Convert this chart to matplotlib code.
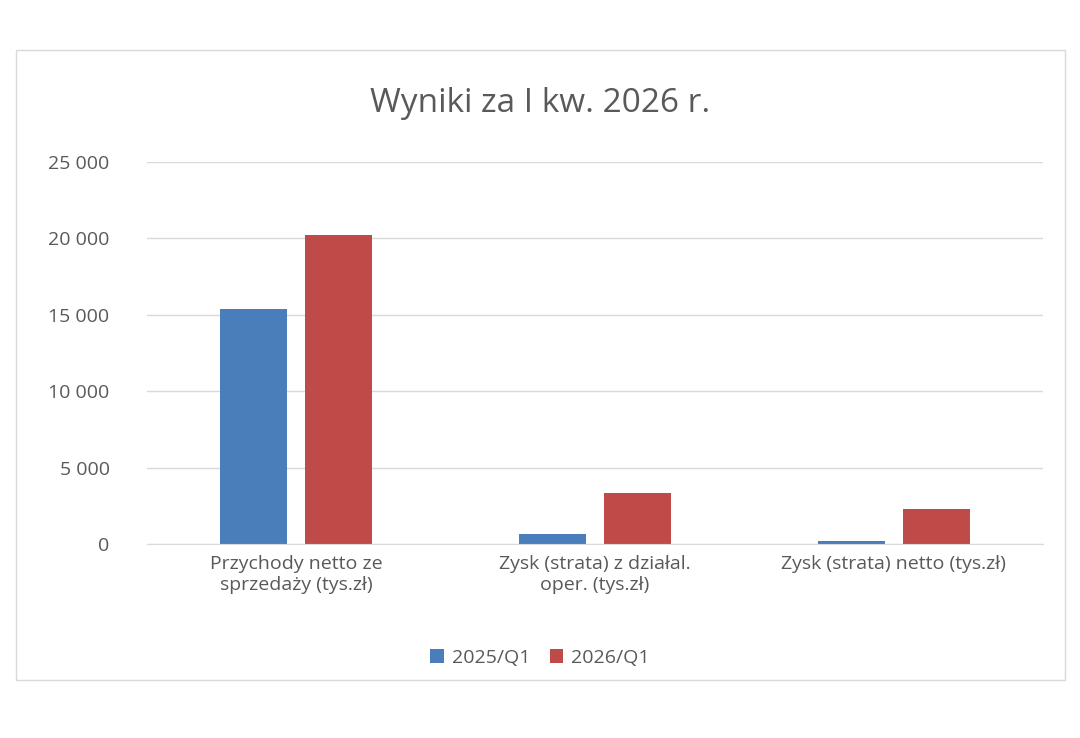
import matplotlib.pyplot as plt
import numpy as np
from matplotlib.patches import Rectangle

categories = ["Przychody netto ze\nsprzedaży (tys.zł)", "Zysk (strata) z działal.\noper. (tys.zł)", "Zysk (strata) netto (tys.zł)"]
series_names = ["2025/Q1", "2026/Q1"]
v2025 = [15350, 650, 200]
v2026 = [20250, 3340, 2290]
yticks = [0, 5000, 10000, 15000, 20000, 25000]
ytick_labels = ["0", "5 000", "10 000", "15 000", "20 000", "25 000"]
colors = ["#4a7ebb", "#be4b48"]

plt.rcParams['font.family'] = ['Open Sans', 'DejaVu Sans']
W, H = 1080, 738
fig = plt.figure(figsize=(W/100, H/100), dpi=100)
fig.patches.append(Rectangle((16/W, 1-680/H), (1065-16)/W, (680-50)/H, transform=fig.transFigure,
                             fill=False, edgecolor="#d9d9d9", lw=1))
ax = fig.add_axes([147/W, 1-544/H, (1043-147)/W, (544-162)/H])
x = np.arange(len(categories))
bw = 0.224
off = 0.142
ax.bar(x - off, v2025, bw, color=colors[0], label=series_names[0])
ax.bar(x + off, v2026, bw, color=colors[1], label=series_names[1])
ax.set_xlim(-0.5, 2.5)
ax.set_ylim(0, 25000)
ax.set_yticks(yticks)
ax.set_yticklabels(ytick_labels, fontsize=14, color="#595959")
ax.yaxis.grid(True, color="#d9d9d9", lw=1)
ax.set_axisbelow(True)
ax.tick_params(axis='y', length=0, pad=27)
ax.tick_params(axis='x', length=0, pad=8)
ax.set_xticks(x)
ax.set_xticklabels(categories, fontsize=14, color="#595959", linespacing=1.2)
for s in ["top", "right", "left"]:
    ax.spines[s].set_visible(False)
ax.spines["bottom"].set_color("#d9d9d9")
fig.text(540/W, 1-103/H, "Wyniki za I kw. 2026 r.", ha="center", va="center", fontsize=24, color="#595959")
fig.legend(loc="center", bbox_to_anchor=(540/W, 1-658/H), ncol=2, frameon=False, fontsize=14,
           handlelength=0.7, handleheight=0.7, columnspacing=1.0, handletextpad=0.4, labelcolor="#595959")
fig.savefig("out.png", dpi=100)
